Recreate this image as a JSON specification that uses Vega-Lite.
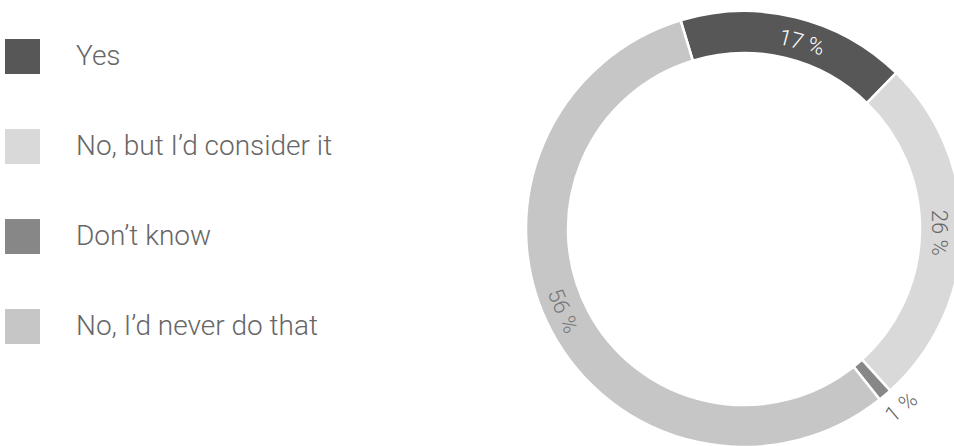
{
  "$schema": "https://vega.github.io/schema/vega-lite/v6.json",
  "autosize": "none",
  "width": 400,
  "height": 400,
  "padding": {"left": 544, "top": 29, "right": 10, "bottom": 17},
  "background": "white",
  "config": {"view": {"stroke": null}},
  "data": {
    "values": [
      {"answer": "Yes", "share": 17, "rank": 1},
      {"answer": "No, but I’d consider it", "share": 26, "rank": 2},
      {"answer": "Don’t know", "share": 1, "rank": 3},
      {"answer": "No, I’d never do that", "share": 56, "rank": 4}
    ]
  },
  "encoding": {
    "theta": {"field": "share", "type": "quantitative", "stack": true, "scale": {"range": [-0.295, 5.988]}},
    "order": {"field": "rank", "type": "quantitative"}
  },
  "layer": [
    {
      "mark": {"type": "arc", "radius": 218, "radius2": 176, "stroke": "white", "strokeWidth": 2.5},
      "encoding": {
        "color": {
          "field": "answer",
          "type": "nominal",
          "scale": {
            "domain": ["Yes", "No, but I’d consider it", "Don’t know", "No, I’d never do that"],
            "range": ["#575757", "#d9d9d9", "#878787", "#c6c6c6"]
          },
          "legend": {
            "orient": "none",
            "legendX": -539,
            "legendY": 10,
            "title": null,
            "padding": 0,
            "symbolType": "square",
            "symbolSize": 1225,
            "symbolStrokeWidth": 0,
            "symbolOpacity": 1,
            "labelFont": "Roboto",
            "labelFontWeight": 300,
            "labelFontSize": 28,
            "labelColor": "#666666",
            "labelOffset": 36,
            "labelLimit": 500,
            "rowPadding": 55
          }
        }
      }
    },
    {
      "mark": {"type": "text", "radius": 195, "thetaOffset": 0.06, "angle": 15, "font": "Roboto", "fontWeight": 300, "fontSize": 22, "fill": "white", "align": "center", "baseline": "middle",
        "text": {"expr": "datum.answer === 'Yes' ? datum.share + ' %' : ''"}},
      "encoding": {"detail": {"field": "answer", "type": "nominal"}}
    },
    {
      "mark": {"type": "text", "radius": 195, "angle": 90, "font": "Roboto", "fontWeight": 300, "fontSize": 22, "fill": "#666666", "align": "center", "baseline": "middle",
        "text": {"expr": "datum.answer === 'No, but I’d consider it' ? datum.share + ' %' : ''"}},
      "encoding": {"detail": {"field": "answer", "type": "nominal"}}
    },
    {
      "mark": {"type": "text", "radius": 238, "thetaOffset": -0.02, "angle": -40, "font": "Roboto", "fontWeight": 300, "fontSize": 22, "fill": "#666666", "align": "center", "baseline": "middle",
        "text": {"expr": "datum.answer === 'Don’t know' ? datum.share + ' %' : ''"}},
      "encoding": {"detail": {"field": "answer", "type": "nominal"}}
    },
    {
      "mark": {"type": "text", "radius": 199, "thetaOffset": 0.058, "angle": 67, "font": "Roboto", "fontWeight": 300, "fontSize": 22, "fill": "#777777", "align": "center", "baseline": "middle",
        "text": {"expr": "datum.answer === 'No, I’d never do that' ? datum.share + ' %' : ''"}},
      "encoding": {"detail": {"field": "answer", "type": "nominal"}}
    }
  ]
}
